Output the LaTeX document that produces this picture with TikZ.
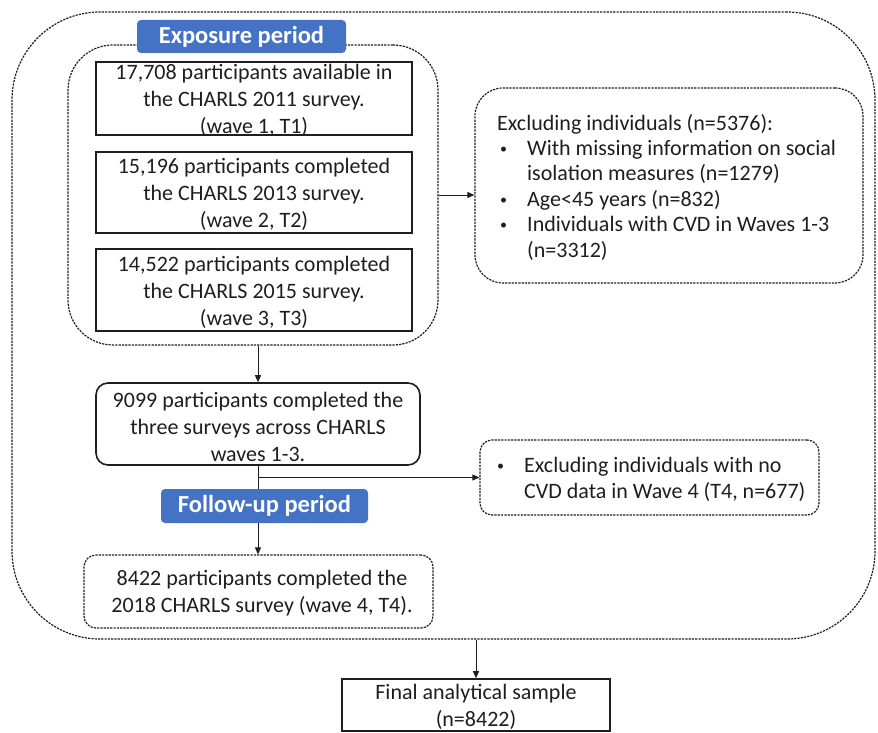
\documentclass[tikz,border=0pt]{standalone}
\usepackage{fontspec}
\setmainfont{Carlito}
\usetikzlibrary{arrows.meta}
\definecolor{lblue}{HTML}{4472C4}
\definecolor{ink}{HTML}{1E1E1E}
\begin{document}
\begin{tikzpicture}[x=1pt,y=-1pt,
  dbox/.style={draw=ink, line width=1.2pt, dash pattern=on 2.2pt off 1.1pt, inner sep=0pt},
  sbox/.style={draw=ink, line width=1.6pt, inner sep=0pt},
  txt/.style={text=ink, inner sep=0pt, align=center, font=\fontsize{22}{27}\selectfont},
  ltxt/.style={text=ink, inner sep=0pt, align=left, anchor=west, font=\fontsize{22}{25.4}\selectfont},
  period/.style={fill=lblue, rounded corners=4pt, text=white, inner sep=0pt,
    font=\bfseries\fontsize{24.5}{28}\selectfont},
  arr/.style={draw=ink, line width=0.9pt, -{Triangle[length=7pt,width=6pt]}}]
\useasboundingbox (0,0) rectangle (878,733);
\newcommand{\bul}{\makebox[30pt][l]{\hspace*{3pt}\raisebox{2pt}{\fontsize{14}{14}\selectfont\textbullet}}}
\newcommand{\ind}{\hspace*{30pt}}

% outer frame
\node[dbox, rounded corners=88pt, minimum width=863pt, minimum height=627pt] (outer) at (443.5,325.5) {};
% exposure frame
\node[dbox, rounded corners=45pt, minimum width=370pt, minimum height=300pt] (expo) at (253,195) {};

% wave boxes
\node[sbox, minimum width=316pt, minimum height=73pt] (b1) at (254,98.5) {};
\node[txt] (t1) at (254,100.5) {17,708 participants available in\\the CHARLS 2011 survey.\\(wave 1, T1)};
\node[sbox, minimum width=316pt, minimum height=81pt] (b2) at (254,192.5) {};
\node[txt] (t2) at (254,194) {15,196 participants completed\\the CHARLS 2013 survey.\\(wave 2, T2)};
\node[sbox, minimum width=316pt, minimum height=82pt] (b3) at (254,290) {};
\node[txt] (t3) at (254,292) {14,522 participants completed\\the CHARLS 2015 survey.\\(wave 3, T3)};

% exclusion 1
\node[dbox, rounded corners=28pt, minimum width=388pt, minimum height=195pt] (excl1) at (669,185.5) {};
\node[ltxt] (x1) at (497,187) {Excluding individuals (n=5376):\\
\bul With missing information on social\\
\ind isolation measures (n=1279)\\
\bul Age<45 years (n=832)\\
\bul Individuals with CVD in Waves 1-3\\
\ind (n=3312)};

% 9099 box
\node[sbox, rounded corners=12pt, minimum width=324pt, minimum height=82pt] (b9099) at (258,424) {};
\node[txt] (t9099) at (258,426.5) {9099 participants completed the\\three surveys across CHARLS\\waves 1-3.};

% exclusion 2
\node[dbox, rounded corners=12pt, minimum width=339pt, minimum height=75pt] (excl2) at (649.5,477.5) {};
\node[ltxt, font=\fontsize{22}{26}\selectfont] (x2) at (494,479.5) {\bul Excluding individuals with no\\
\ind CVD data in Wave 4 (T4, n=677)};

% 8422 box
\node[dbox, rounded corners=12pt, minimum width=349pt, minimum height=73pt] (b8422) at (258.5,591.5) {};
\node[txt] (t8422) at (262,593) {8422 participants completed the\\2018 CHARLS survey (wave 4, T4).};

% final box
\node[sbox, minimum width=268pt, minimum height=52pt] (final) at (476,705) {};
\node[txt] (tfinal) at (476,707) {Final analytical sample\\(n=8422)};

% connectors
\draw[arr] (b9099.north |- expo.south) -- (b9099.north);
\draw[arr] (expo.east) -- (expo.east -| excl1.west);
\draw[arr] (b9099.south) -- (b9099.south |- b8422.north);
\draw[arr] (excl2.west -| b9099.south) -- (excl2.west);
\draw[arr] (outer.south -| final.north) -- (final.north);

% period labels
\node[period, minimum width=209pt, minimum height=33pt] (lexpo) at (241.5,36.5) {Exposure period};
\node[period, minimum width=207pt, minimum height=34pt] (lfollow) at (264.5,506) {Follow-up period};
\end{tikzpicture}
\end{document}
